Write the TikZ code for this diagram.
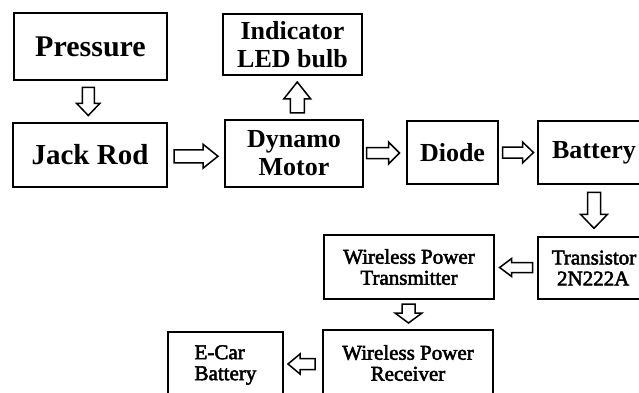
\documentclass[tikz,border=0pt]{standalone}
\usepackage{fontspec}
\setmainfont{Liberation Serif}
\newfontfamily\semib[FakeBold=2.5]{Liberation Serif}
\begin{document}
\begin{tikzpicture}[x=1pt,y=-1pt,
  topbox/.style={draw, line width=1.5pt, inner sep=0pt, align=center, font=\bfseries\fontsize{26}{28}\selectfont},
  lowbox/.style={draw, line width=2.8pt, inner sep=0pt, align=center, font=\semib\fontsize{21}{21}\selectfont},
  pics/barr/.style args={#1/#2/#3/#4}{code={
    \draw[line width=1.5pt, line join=miter, fill=white]
      (-#1/2, #2/2) -- (#1/2-#4, #2/2) -- (#1/2-#4, #3/2) -- (#1/2, 0)
      -- (#1/2-#4, -#3/2) -- (#1/2-#4, -#2/2) -- (-#1/2, -#2/2) -- cycle;
  }}]
\useasboundingbox (0,0) rectangle (639,393);
\clip (0,0) rectangle (639,393);
\fill[white] (0,0) rectangle (639,393);

\node[topbox, minimum width=153pt, minimum height=67pt, font=\bfseries\fontsize{30}{30}\selectfont] (press) at (90.5,46.5) {Pressure};
\node[topbox, minimum width=154pt, minimum height=64pt, font=\bfseries\fontsize{29}{29}\selectfont] (jack) at (90,155) {Jack Rod};
\node[topbox, minimum width=139pt, minimum height=61pt] (led) at (292.5,44.5) {Indicator\\LED bulb};
\node[topbox, minimum width=138pt, minimum height=67pt] (dyn) at (294,153.5) {Dynamo\\Motor};
\node[topbox, minimum width=91pt, minimum height=63pt] (diode) at (452.5,152.5) {Diode};
\node[topbox, minimum width=112pt, minimum height=63pt] (batt) at (594,152.5) {Battery};
\node[lowbox, line width=2.2pt, minimum width=112pt, minimum height=62pt, align=left] (tran) at (594,268) {Transistor\\\ 2N222A};
\node[lowbox, minimum width=170pt, minimum height=64pt] (wpt) at (409,267) {Wireless Power\\Transmitter};
\node[lowbox, minimum width=170pt, minimum height=66pt] (wpr) at (408,363) {Wireless Power\\Receiver};
\node[lowbox, minimum width=115pt, minimum height=66pt, align=left] (ecar) at (225.5,365) {E-Car\\Battery};

\path (press.south) -- coordinate[midway] (m1) (jack.north);
\pic[rotate=-90] at ([xshift=-2pt]m1) {barr=28/12/23/12};
\path (jack.east) -- coordinate[midway] (m2) (dyn.west);
\pic at ([yshift=-2pt]m2) {barr=44/13/24/15};
\path (dyn.north) -- coordinate[midway] (m3) (led.south);
\pic[rotate=90] at ([xshift=4pt]m3) {barr=31/14/27/17};
\path (dyn.east) -- coordinate[midway] (m4) (diode.west);
\pic at ([xshift=-2pt]m4) {barr=33/11/22/11};
\path (diode.east) -- coordinate[midway] (m5) (batt.west);
\pic at (m5) {barr=31/11/21/11};
\path (batt.south) -- coordinate[midway] (m6) (tran.north);
\pic[rotate=-90] at (m6) {barr=36/13/27/14};
\path (tran.west) -- coordinate[midway] (m7) (wpt.east);
\pic[rotate=180] at (m7) {barr=33/10/18/12};
\path (wpt.south) -- coordinate[midway] (m8) (wpr.north);
\pic[rotate=-90] at ([yshift=1pt]m8) {barr=19/13/27/10};
\path (wpr.west) -- coordinate[midway] (m9) (ecar.east);
\pic[rotate=180] at ([xshift=-1.5pt]m9) {barr=27/11/20/12};
\end{tikzpicture}
\end{document}
